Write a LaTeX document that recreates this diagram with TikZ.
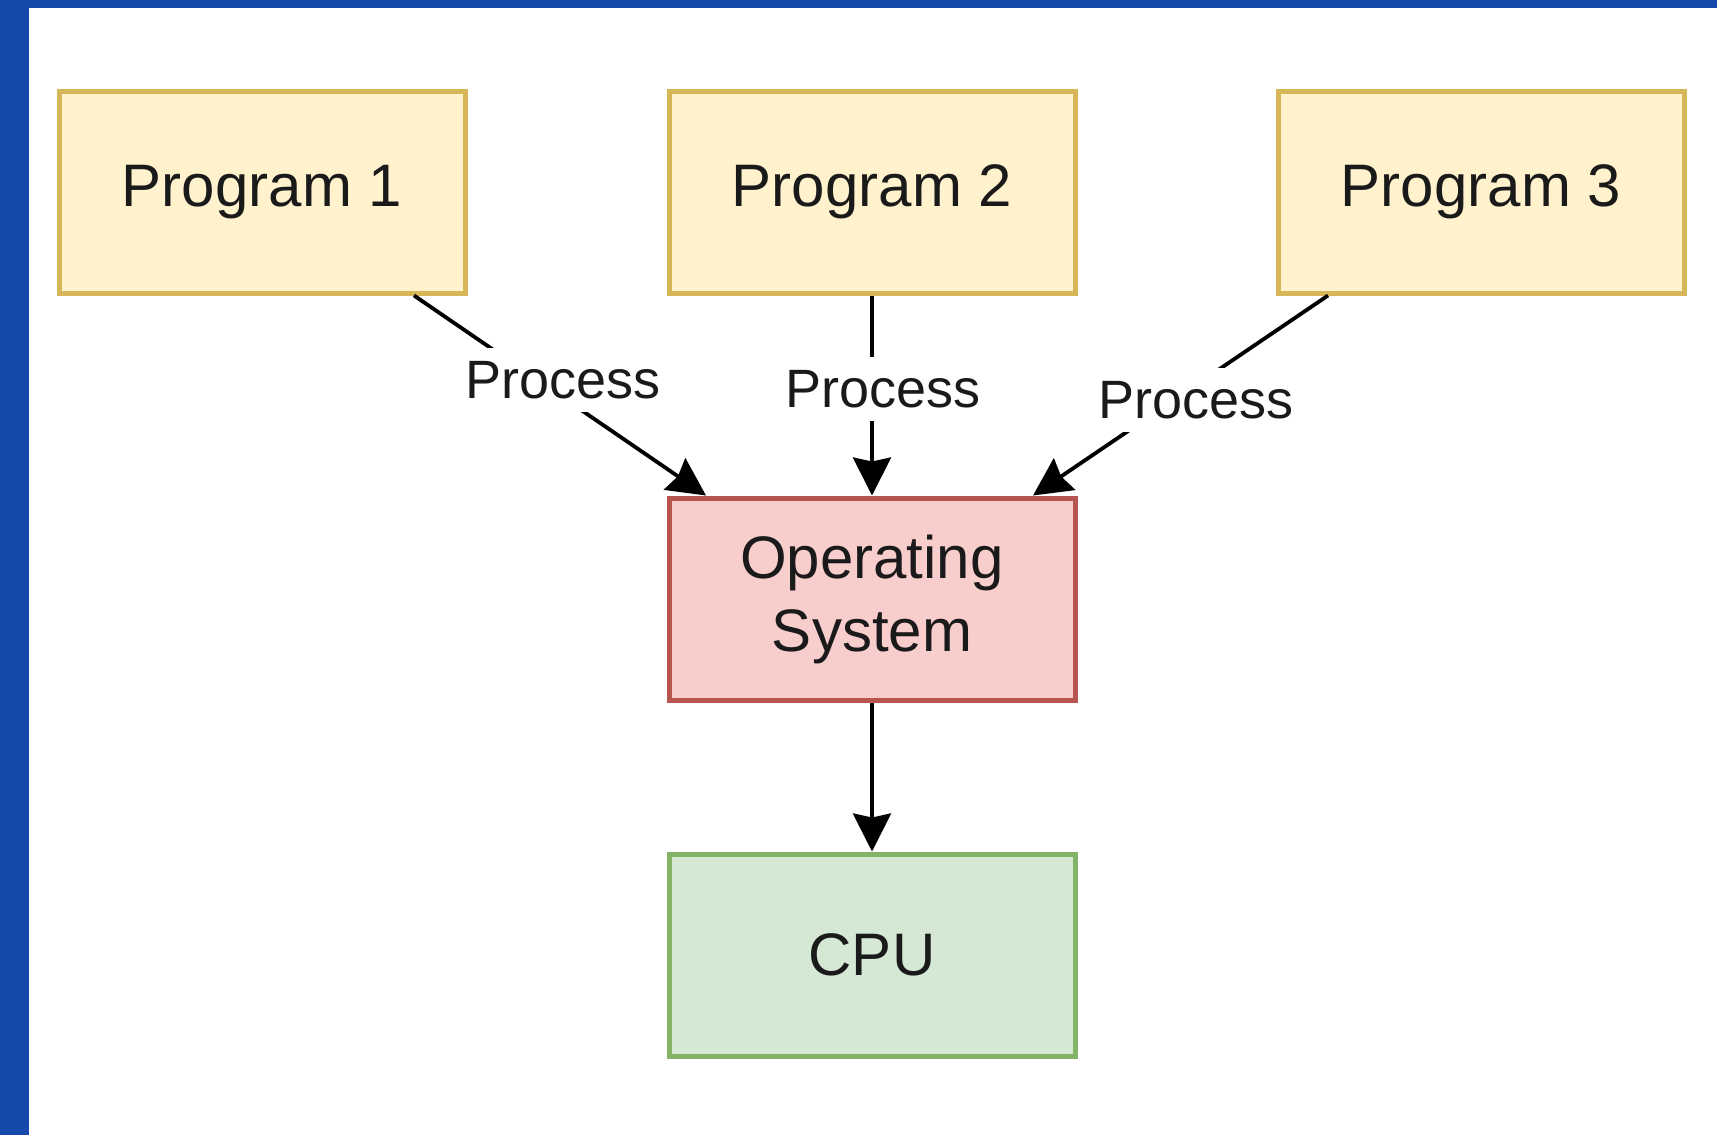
\documentclass[tikz,border=0pt]{standalone}
\usepackage{fontspec}
\setmainfont{Liberation Sans}
\usetikzlibrary{arrows.meta}
\definecolor{frameblue}{HTML}{1749AD}
\definecolor{progfill}{HTML}{FFF2CC}
\definecolor{progline}{HTML}{D6B656}
\definecolor{osfill}{HTML}{F8CECC}
\definecolor{osline}{HTML}{B85450}
\definecolor{cpufill}{HTML}{D5E8D4}
\definecolor{cpuline}{HTML}{82B366}
\definecolor{textgray}{HTML}{1A1A1A}
\tikzset{
  box/.style={draw, line width=5pt, minimum width=406pt, minimum height=202pt,
    inner sep=0pt, align=center, text=textgray,
    font=\fontsize{60}{73}\selectfont},
  prog/.style={box, fill=progfill, draw=progline},
  os/.style={box, fill=osfill, draw=osline},
  cpu/.style={box, fill=cpufill, draw=cpuline},
  flow/.style={draw=black, line width=3.8pt,
    -{Stealth[length=38pt, width=38pt, inset=4pt]}},
  lbl/.style={fill=white, inner xsep=0pt, minimum height=64pt, text=textgray,
    font=\fontsize{54}{64}\selectfont}
}
\begin{document}
\begin{tikzpicture}[x=1pt, y=-1pt]
  % page and frame
  \useasboundingbox (0,0) rectangle (1717,1135);
  \fill[white] (0,0) rectangle (1717,1135);
  \fill[frameblue] (0,0) rectangle (1717,8);
  \fill[frameblue] (0,0) rectangle (29,1135);

  % boxes
  \node[prog] (p1) at (262,192) {Program 1};
  \node[prog] (p2) at (872,192) {Program 2};
  \node[prog] (p3) at (1481,192) {Program 3};
  \node[os]   (os) at (872,599) {Operating\\System};
  \node[cpu]  (cpu) at (872,955) {CPU};

  % connectors
  \draw[flow] ([xshift=152pt]p1.south) -- ([xshift=-166pt]os.north);
  \draw[flow] (p2.south) -- (os.north);
  \draw[flow] ([xshift=-153pt]p3.south) -- ([xshift=161pt]os.north);
  \draw[flow] (os.south) -- (cpu.north);

  % connector labels
  \node[lbl] (l1) at (563,380) {Process};
  \node[lbl] (l2) at (883,389) {Process};
  \node[lbl] (l3) at (1196,400) {Process};
\end{tikzpicture}
\end{document}
